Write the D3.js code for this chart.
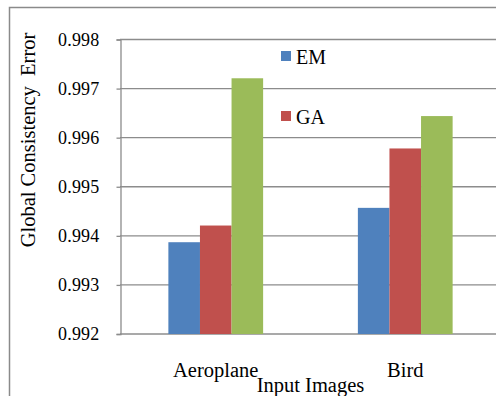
<!DOCTYPE html>
<html>
<head>
<meta charset="utf-8">
<script src="https://cdn.jsdelivr.net/npm/d3@7"></script>
<style>
  html, body { margin: 0; padding: 0; background: #fff; }
  svg { display: block; }
  text { font-family: "Liberation Serif", "Times New Roman", serif; fill: #000; }
</style>
</head>
<body>
<svg id="chart" width="496" height="396"></svg>
<script>
const categories = ["Aeroplane", "Bird"];
const seriesNames = ["EM", "GA", "Series3"];
const legendNames = ["EM", "GA"];
const emValues = [0.99387, 0.99457];
const gaValues = [0.99421, 0.99578];
const thirdValues = [0.99721, 0.99644];
const yTicks = [0.992, 0.993, 0.994, 0.995, 0.996, 0.997, 0.998];
const colors = ["#4F81BD", "#C0504D", "#9BBB59"];
const xTitle = "Input Images";
const yTitle = "Global Consistency  Error";

const seriesValues = [emValues, gaValues, thirdValues];

const svg = d3.select("#chart");

// outer chart border
svg.append("rect")
  .attr("x", 9.5).attr("y", 7.5)
  .attr("width", 520).attr("height", 420)
  .attr("fill", "none").attr("stroke", "#8a8a8a").attr("stroke-width", 1.5);

const plotLeft = 121, plotRight = 500, plotTop = 39.5, plotBottom = 334;

const x = d3.scaleBand().domain(categories).range([plotLeft, plotRight]).paddingInner(0).paddingOuter(0);
const bw = x.bandwidth();
const xs = d3.scaleBand().domain(seriesNames).range([bw * 0.25, bw * 0.75]).padding(0);
const y = d3.scaleLinear().domain([0.992, 0.998]).range([plotBottom, plotTop]);

// gridlines
svg.append("g").selectAll("line").data(yTicks).join("line")
  .attr("x1", plotLeft - 1).attr("x2", 496)
  .attr("y1", d => y(d)).attr("y2", d => y(d))
  .attr("stroke", "#8c8c8c").attr("stroke-width", 1.3);

// y axis
const yAxis = d3.axisLeft(y).tickValues(yTicks).tickFormat(d3.format(".3f")).tickSize(4).tickPadding(17);
const gy = svg.append("g").attr("transform", `translate(${plotLeft - 0.5},0)`).call(yAxis);
gy.select(".domain").attr("stroke", "#8c8c8c").attr("stroke-width", 1.3);
gy.selectAll(".tick line").attr("stroke", "#8c8c8c").attr("stroke-width", 1.3);
gy.selectAll(".tick text")
  .style("font-family", "'Liberation Serif', 'Times New Roman', serif")
  .style("font-size", "18px").style("fill", "#000").style("letter-spacing", "0.2px");

// bars
const groups = svg.append("g").selectAll("g").data(categories).join("g")
  .attr("transform", d => `translate(${x(d)},0)`);
groups.selectAll("rect")
  .data((c, ci) => seriesNames.map((s, si) => ({ s, si, v: seriesValues[si][ci] })))
  .join("rect")
  .attr("x", d => xs(d.s))
  .attr("width", xs.bandwidth())
  .attr("y", d => y(d.v))
  .attr("height", d => y(0.992) - y(d.v))
  .attr("fill", d => colors[d.si]);

// x category labels
svg.append("g").selectAll("text").data(categories).join("text")
  .attr("x", d => x(d) + bw / 2).attr("y", 377)
  .attr("text-anchor", "middle").style("font-size", "20.5px")
  .text(d => d);

// x title
svg.append("text")
  .attr("x", (plotLeft + plotRight) / 2).attr("y", 392)
  .attr("text-anchor", "middle").style("font-size", "20.5px")
  .text(xTitle);

// y title
svg.append("text")
  .attr("transform", "translate(35,140) rotate(-90)")
  .attr("text-anchor", "middle").style("font-size", "20.5px")
  .style("white-space", "pre")
  .text(yTitle);

// legend
const legend = svg.append("g").selectAll("g").data(legendNames).join("g")
  .attr("transform", (d, i) => `translate(281,${51 + i * 60})`);
legend.append("rect").attr("width", 10).attr("height", 10)
  .attr("fill", (d, i) => colors[i]);
legend.append("text").attr("x", 15).attr("y", 13).style("font-size", "20px")
  .text(d => d);
</script>
</body>
</html>
